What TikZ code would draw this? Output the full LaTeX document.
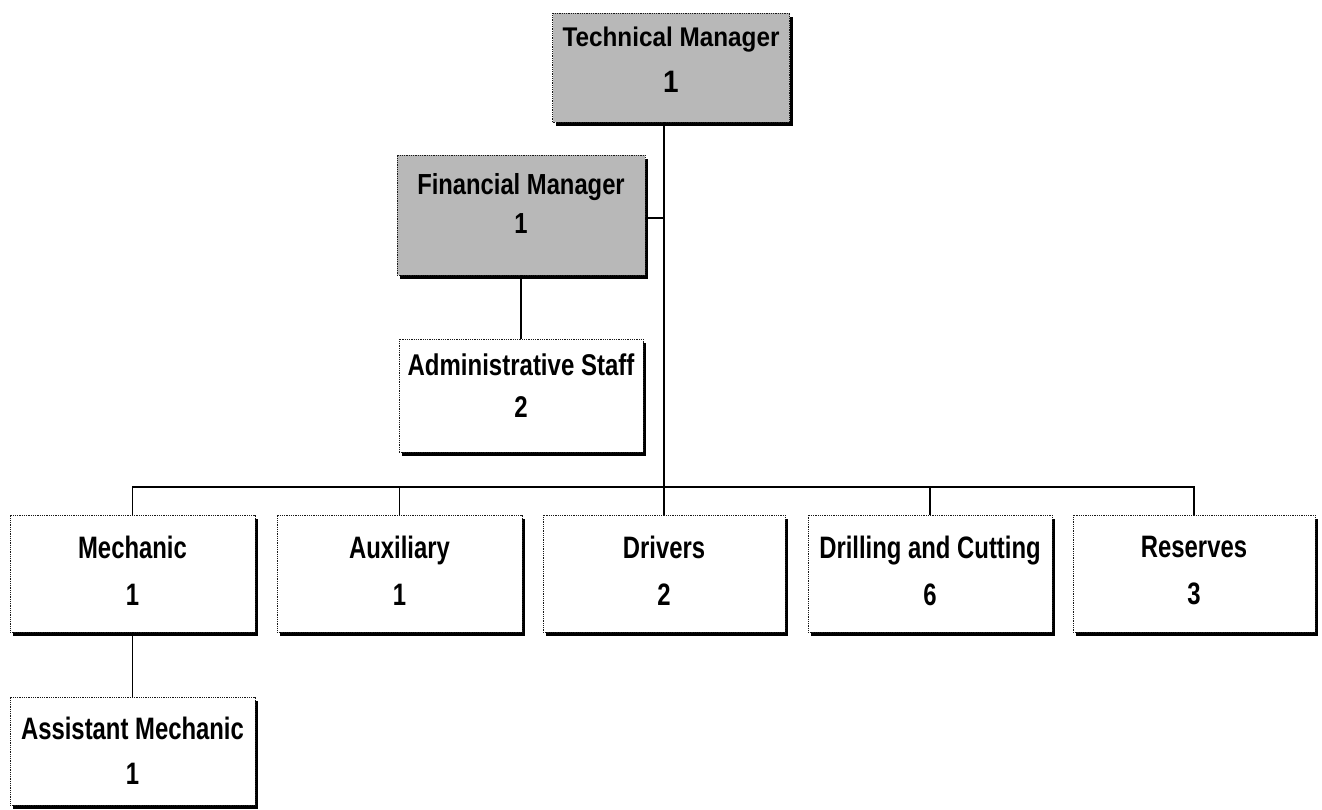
\documentclass[tikz,border=0pt]{standalone}
\usepackage{fontspec}
\usetikzlibrary{shadows}
\newfontfamily\fTM[FakeStretch=0.9]{Liberation Sans}
\newfontfamily\fFM[FakeStretch=0.82]{Liberation Sans}
\newfontfamily\fAD[FakeStretch=0.8]{Liberation Sans}
\newfontfamily\fBT[FakeStretch=0.77]{Liberation Sans}
\definecolor{mgrgray}{HTML}{B8B8B8}
\tikzset{
  orgbox/.style={draw=black!90, dash pattern=on 0.9pt off 0.9pt, line width=0.9pt,
    fill=white, align=center, inner sep=0pt,
    drop shadow={shadow xshift=3pt, shadow yshift=-4pt, fill=black, opacity=1}},
  mgrbox/.style={orgbox, fill=mgrgray},
  link/.style={draw=black, line width=1.3pt},
  botfont/.style={font={\fBT\bfseries\fontsize{31}{47}\selectfont}}
}
\begin{document}
\begin{tikzpicture}[x=1pt,y=-1pt]
\useasboundingbox (0,0) rectangle (1322,810);
% managers
\node[mgrbox, minimum width=237pt, minimum height=109pt,
      font={\fTM\bfseries\fontsize{27}{46}\selectfont}]
  (tm) at (671,67.5) {Technical Manager\\{\fontsize{31}{46}\selectfont 1}\rule[-15pt]{0pt}{0pt}};
\node[mgrbox, minimum width=248pt, minimum height=120pt,
      font={\fFM\bfseries\fontsize{29}{39}\selectfont}]
  (fm) at (521,215) {Financial Manager\\1\rule[-23pt]{0pt}{0pt}};
\node[orgbox, minimum width=244pt, minimum height=113pt,
      font={\fAD\bfseries\fontsize{30}{42}\selectfont}]
  (adm) at (521,395.5) {Administrative Staff\\2\rule[-19pt]{0pt}{0pt}};
% bottom row
\node[orgbox, botfont, minimum width=245pt, minimum height=117pt]
  (mech) at (132.5,573.5) {Mechanic\\1\rule[-6pt]{0pt}{0pt}};
\node[orgbox, botfont, minimum width=245pt, minimum height=117pt]
  (aux) at (399.5,573.5) {Auxiliary\\1\rule[-6pt]{0pt}{0pt}};
\node[orgbox, botfont, minimum width=242pt, minimum height=117pt]
  (drv) at (664,573.5) {Drivers\\2\rule[-6pt]{0pt}{0pt}};
\node[orgbox, botfont, minimum width=244pt, minimum height=117pt]
  (drl) at (930,573.5) {Drilling and Cutting\\6\rule[-6pt]{0pt}{0pt}};
\node[orgbox, botfont, minimum width=242pt, minimum height=117pt]
  (res) at (1194,573.5) {Reserves\\3\rule[-6pt]{0pt}{0pt}};
\node[orgbox, font={\fBT\bfseries\fontsize{31}{45}\selectfont},
      minimum width=245pt, minimum height=108pt]
  (asst) at (132.5,751) {Assistant Mechanic\\1};
% connectors
\coordinate (busy) at (0,487);
\draw[link] (tm.south -| drv.north) -- (drv.north);
\draw[link] ([yshift=-3pt]fm.east) -- ([yshift=-3pt]fm.east -| drv.north);
\draw[link] (fm.south) -- (adm.north);
\draw[link] (mech.north) -- (mech.north |- busy) -- (res.north |- busy) -- (res.north);
\draw[link] (aux.north) -- (aux.north |- busy);
\draw[link] (drl.north) -- (drl.north |- busy);
\draw[link] (mech.south) -- (asst.north);
\end{tikzpicture}
\end{document}
